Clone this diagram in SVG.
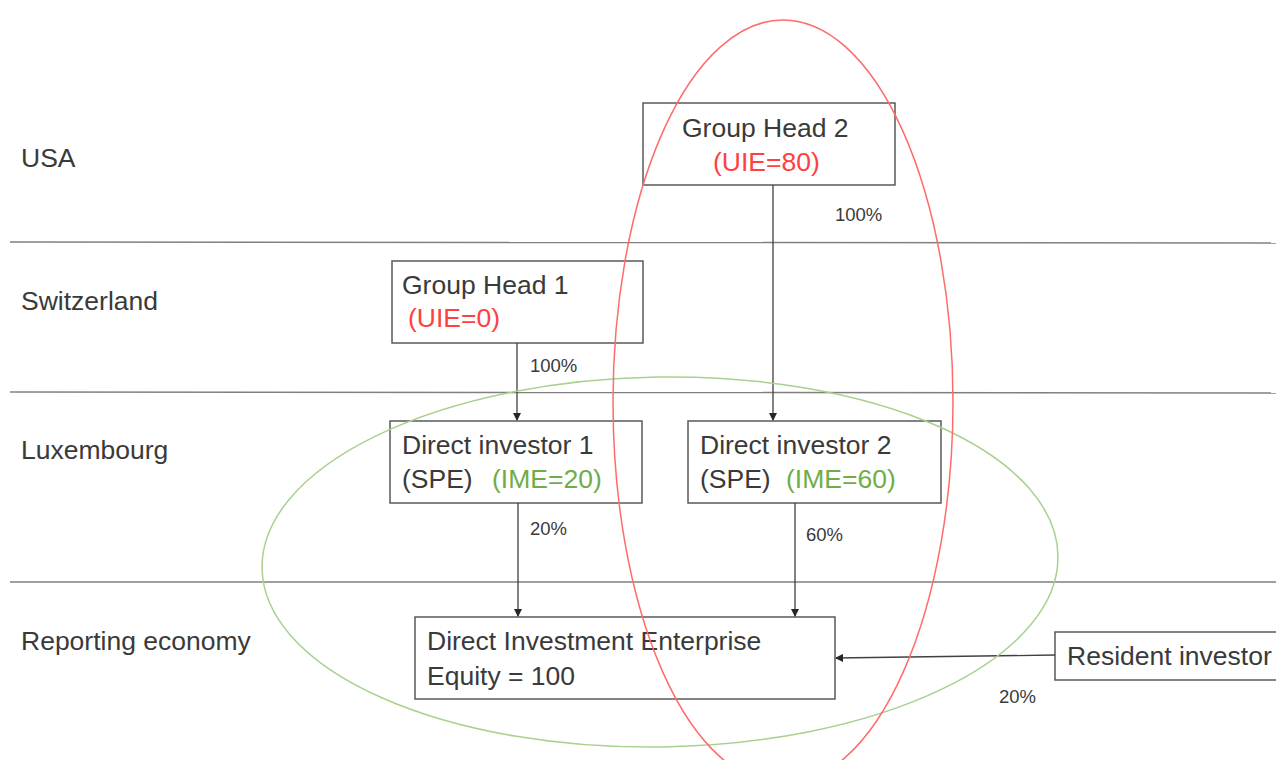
<svg xmlns="http://www.w3.org/2000/svg" width="1285" height="760" viewBox="0 0 1285 760">
<style>
text{font-family:"Liberation Sans",Arial,sans-serif;fill:#3a3a3a;font-size:26.5px}
.pct{font-size:18.5px}
.red{fill:#ff4040}
.grn{fill:#70ad47}
.box{fill:none;stroke:#595959;stroke-width:1.5}
.sep{stroke:#808080;stroke-width:1.5}
.con{stroke:#404040;stroke-width:1.3;fill:none}
</style>
<defs>
<marker id="ah" markerWidth="8" markerHeight="8" refX="7" refY="4" orient="auto" markerUnits="userSpaceOnUse">
<path d="M0,0 L8,4 L0,8 Z" fill="#262626"/>
</marker>
</defs>
<rect width="1285" height="760" fill="#ffffff"/>
<g id="separators">
<line class="sep" x1="10" y1="242" x2="1276" y2="243"/>
<line class="sep" x1="10" y1="392" x2="1276" y2="393"/>
<line class="sep" x1="10" y1="582" x2="1276" y2="582"/>
</g>
<g id="row-labels">
<text x="21" y="167">USA</text>
<text x="21" y="310">Switzerland</text>
<text x="21" y="459">Luxembourg</text>
<text x="21" y="650">Reporting economy</text>
</g>
<g id="group-head-2">
<rect class="box" x="643" y="103" width="252" height="82"/>
<text x="682" y="137">Group Head 2</text>
<text class="red" x="713" y="171">(UIE=80)</text>
</g>
<g id="group-head-1">
<rect class="box" x="392" y="261" width="251" height="82"/>
<text x="402" y="294">Group Head 1</text>
<text class="red" x="408" y="327">(UIE=0)</text>
</g>
<g id="direct-investor-1">
<rect class="box" x="390" y="421" width="252" height="82"/>
<text x="402" y="454">Direct investor 1</text>
<text x="402" y="488">(SPE)</text>
<text class="grn" x="492" y="488">(IME=20)</text>
</g>
<g id="direct-investor-2">
<rect class="box" x="688" y="421" width="253" height="82"/>
<text x="700" y="454">Direct investor 2</text>
<text x="700" y="488">(SPE)</text>
<text class="grn" x="786" y="488">(IME=60)</text>
</g>
<g id="die">
<rect class="box" x="415" y="617" width="420" height="82"/>
<text x="427" y="650">Direct Investment Enterprise</text>
<text x="427" y="685">Equity = 100</text>
</g>
<g id="resident-investor">
<path class="box" d="M1276,632 H1055 V680 H1276"/>
<text x="1067" y="665">Resident investor</text>
</g>
<g id="connectors">
<line class="con" x1="773" y1="185" x2="773" y2="420" marker-end="url(#ah)"/>
<line class="con" x1="517" y1="343" x2="517" y2="420" marker-end="url(#ah)"/>
<line class="con" x1="518" y1="503" x2="518" y2="616" marker-end="url(#ah)"/>
<line class="con" x1="795" y1="503" x2="795" y2="616" marker-end="url(#ah)"/>
<line class="con" x1="1055" y1="655" x2="836" y2="658" marker-end="url(#ah)"/>
<text class="pct" x="835" y="221">100%</text>
<text class="pct" x="530" y="372">100%</text>
<text class="pct" x="530" y="535">20%</text>
<text class="pct" x="806" y="541">60%</text>
<text class="pct" x="999" y="703">20%</text>
</g>
<g id="ellipses">
<ellipse cx="660" cy="562" rx="398" ry="185" transform="rotate(-0.9 660 562)" fill="none" stroke="#a9d18e" stroke-width="1.5"/>
<ellipse cx="783" cy="402" rx="170" ry="382" fill="none" stroke="#ff6b6b" stroke-width="1.5"/>
</g>
</svg>
